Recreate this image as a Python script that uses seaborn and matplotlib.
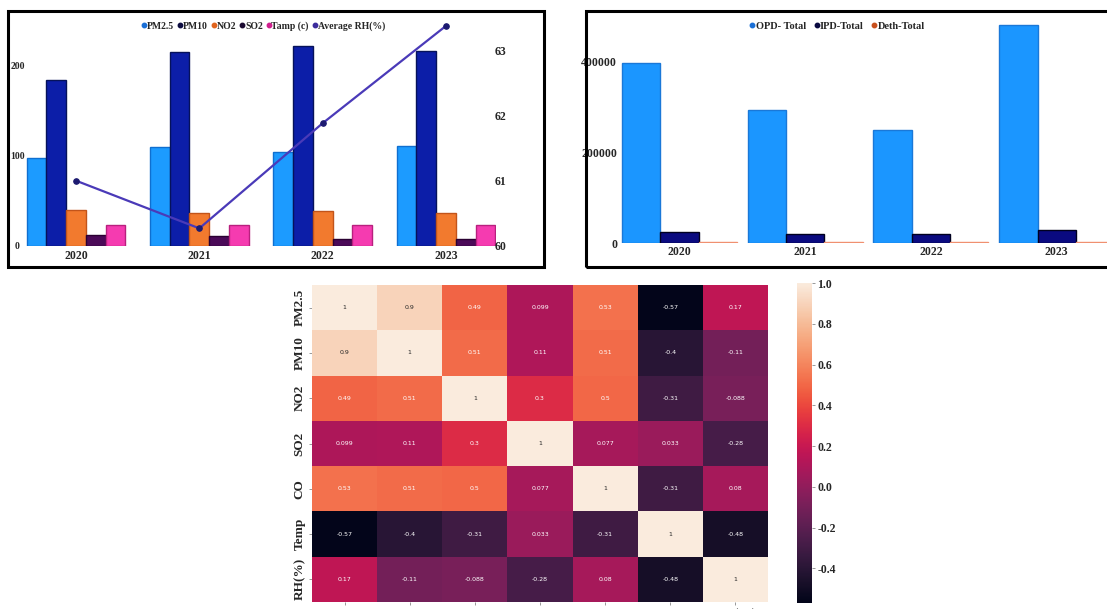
import numpy as np
import pandas as pd
import matplotlib
matplotlib.use("Agg")
import matplotlib.pyplot as plt
from matplotlib.lines import Line2D
from matplotlib.patches import Rectangle
import seaborn as sns

# ---- data ----
years = ["2020", "2021", "2022", "2023"]
pollutants = ["PM2.5", "PM10", "NO2", "SO2", "Tamp (c)"]
pm25 = [97, 109, 104, 110]
pm10 = [184, 214, 221, 216]
no2 = [40, 36, 39, 37]
so2 = [12.5, 11.5, 7.5, 7.5]
tamp = [23, 23.5, 23.5, 23.5]
avg_rh = [61.0, 60.27, 61.88, 63.37]

hospital_series = ["OPD- Total", "IPD-Total", "Deth-Total"]
opd_total = [397000, 294000, 250000, 482000]
ipd_total = [23500, 20500, 20000, 28000]
death_total = [1500, 1400, 1300, 1500]

corr_labels = ["PM2.5", "PM10", "NO2", "SO2", "CO", "Temp", "RH(%)"]
corr_values = [
    [1, 0.9, 0.49, 0.099, 0.53, -0.57, 0.17],
    [0.9, 1, 0.51, 0.11, 0.51, -0.4, -0.11],
    [0.49, 0.51, 1, 0.3, 0.5, -0.31, -0.088],
    [0.099, 0.11, 0.3, 1, 0.077, 0.033, -0.28],
    [0.53, 0.51, 0.5, 0.077, 1, -0.31, 0.08],
    [-0.57, -0.4, -0.31, 0.033, -0.31, 1, -0.48],
    [0.17, -0.11, -0.088, -0.28, 0.08, -0.48, 1],
]
cbar_ticks = [-0.4, -0.2, 0.0, 0.2, 0.4, 0.6, 0.8, 1.0]

# ---- style ----
sns.set_style("white")
plt.rcParams["font.family"] = ["Liberation Serif", "DejaVu Serif"]
plt.rcParams["font.weight"] = "bold"

W, H = 1107, 609
fig = plt.figure(figsize=(W / 100, H / 100), dpi=100)


def px_axes(x0, x1, ytop, ybot):
    return fig.add_axes([x0 / W, (H - ybot) / H, (x1 - x0) / W, (ybot - ytop) / H])


# ---- air-quality bars + humidity line ----
ax1 = px_axes(26, 496, 18, 246)
poll_df = pd.DataFrame({
    "Year": np.repeat(years, len(pollutants)),
    "Pollutant": pollutants * len(years),
    "Value": np.column_stack([pm25, pm10, no2, so2, tamp]).ravel(),
})
poll_colors = ["#1c9bff", "#0c1ea8", "#f27a2e", "#4b0a58", "#f53bb0"]
poll_edges = ["#0f6fd0", "#06125a", "#c2541a", "#2a0032", "#b8207e"]
sns.barplot(data=poll_df, x="Year", y="Value", hue="Pollutant", hue_order=pollutants,
            palette=poll_colors, width=0.8, ax=ax1, legend=False, saturation=1)
for cont, ec in zip(ax1.containers, poll_edges):
    for p in cont.patches:
        p.set_edgecolor(ec)
        p.set_linewidth(1.0)
ax1.set_ylim(0, 252)
ax1.set_yticks([0, 100, 200])
ax1.set_xlabel("")
ax1.set_ylabel("")
ax1.tick_params(axis="x", length=0, labelsize=8.5, pad=3)
ax1.tick_params(axis="y", length=0, labelsize=7, pad=6.1)
for lab in ax1.get_xticklabels():
    lab.set_fontweight("bold")
for lab in ax1.get_yticklabels():
    lab.set_fontweight("bold")
    lab.set_horizontalalignment("center")
for s in ax1.spines.values():
    s.set_visible(False)

ax2 = ax1.twinx()
sns.lineplot(x=np.arange(len(years)), y=avg_rh, ax=ax2, color="#4a3ab8", lw=1.6,
             marker="o", markersize=4, markerfacecolor="#1c1a70",
             markeredgecolor="#1c1a70")
ax2.set_ylim(60.0, 63.49)
ax2.set_yticks([60, 61, 62, 63])
ax2.set_ylabel("")
ax2.tick_params(axis="y", length=0, labelsize=8.5, pad=-1)
for lab in ax2.get_yticklabels():
    lab.set_fontweight("bold")
for s in ax2.spines.values():
    s.set_visible(False)
ax1.set_xlim(-0.405, 3.405)
ax2.set_xlim(-0.405, 3.405)

legend_colors = ["#1a6fd6", "#0c0c40", "#e0641e", "#1a0a30", "#d0208e", "#3c2c9c"]
handles = [Line2D([], [], ls="", marker="o", ms=3.2, color=c) for c in legend_colors]
ax1.legend(handles, pollutants + ["Average RH(%)"], loc="center",
           bbox_to_anchor=(0.505, 0.965), ncol=6, frameon=False,
           prop=dict(size=7, weight="bold", family="Liberation Serif"),
           handlelength=0.5, handletextpad=0.05, columnspacing=0.35)

# ---- hospital totals ----
ax3 = px_axes(620, 1107, 18, 243)
hosp_df = pd.DataFrame({
    "Year": np.repeat(years, len(hospital_series)),
    "Series": hospital_series * len(years),
    "Value": np.column_stack([opd_total, ipd_total, death_total]).ravel(),
})
hosp_colors = ["#1b96ff", "#0a0a80", "#f4a184"]
hosp_edges = ["#1a78d8", "#000020", "#f09070"]
sns.barplot(data=hosp_df, x="Year", y="Value", hue="Series", hue_order=hospital_series,
            palette=hosp_colors, width=0.915, ax=ax3, legend=False, saturation=1)
for cont, ec in zip(ax3.containers, hosp_edges):
    for p in cont.patches:
        p.set_edgecolor(ec)
        p.set_linewidth(1.0)
ax3.set_ylim(0, 497000)
ax3.set_xlim(-0.473, 3.40)
ax3.set_yticks([0, 200000, 400000])
ax3.set_yticklabels(["0", "200000", "400000"])
ax3.set_xlabel("")
ax3.set_ylabel("")
ax3.tick_params(axis="both", length=0, labelsize=8.5, pad=2)
for lab in ax3.get_xticklabels() + ax3.get_yticklabels():
    lab.set_fontweight("bold")
for s in ax3.spines.values():
    s.set_visible(False)
h_handles = [Line2D([], [], ls="", marker="o", ms=3.2, color=c)
             for c in ["#1a6fd6", "#0a0a40", "#c8501e"]]
ax3.legend(h_handles, hospital_series, loc="center", bbox_to_anchor=(0.446, 0.964),
           ncol=3, frameon=False,
           prop=dict(size=7.5, weight="bold", family="Liberation Serif"),
           handlelength=0.5, handletextpad=0.05, columnspacing=0.8)

# frames around the two top panels
fig.add_artist(Rectangle((8 / W, (H - 267) / H), 536 / W, 256 / H, transform=fig.transFigure,
                         fill=False, lw=2.2, ec="black"))
fig.add_artist(Rectangle((586 / W, (H - 267) / H), 530 / W, 256 / H, transform=fig.transFigure,
                         fill=False, lw=2.2, ec="black"))

# ---- correlation heatmap ----
ax4 = px_axes(312, 768, 285, 602)
cax = px_axes(797, 812, 283, 603)
corr_df = pd.DataFrame(corr_values, index=corr_labels, columns=corr_labels)
sns.heatmap(corr_df, annot=True, fmt=".2g", cmap="rocket", ax=ax4, cbar_ax=cax,
            annot_kws=dict(size=4.5, family="DejaVu Sans", fontweight="normal"),
            cbar_kws=dict(ticks=cbar_ticks))
ax4.tick_params(axis="both", length=2.5, width=0.6, color="#888888", labelsize=9.5, pad=2,
                bottom=True, left=True)
ax4.set_yticklabels(corr_labels, rotation=90, va="center", fontweight="bold")
ax4.set_xticklabels(corr_labels, rotation=0, fontweight="bold")
cax.tick_params(length=2, width=0.6, color="#888888", labelsize=8.5, pad=2, right=True)
cax.set_yticklabels([f"{t:.1f}" for t in cbar_ticks], fontweight="bold")

fig.savefig("out.png", dpi=100)
